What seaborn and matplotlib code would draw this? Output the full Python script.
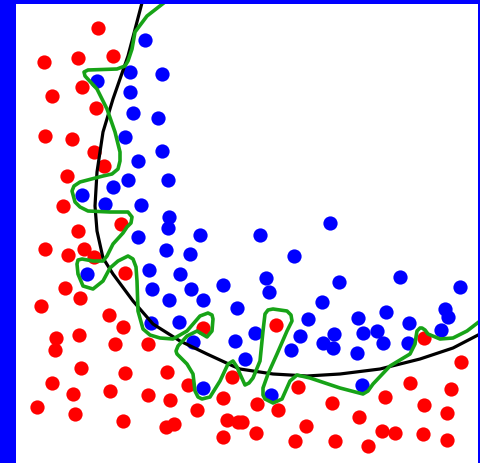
import matplotlib
matplotlib.use("Agg")
import matplotlib.pyplot as plt
import seaborn as sns
import pandas as pd

# Red class points (x, y) in image units (y grows downward)
red_x = [98, 44, 78, 113, 82, 52, 96, 45, 72, 94, 104, 67, 63, 121, 78,
         45, 68, 84, 94, 125, 65, 80, 41, 109, 123, 56, 79, 55, 115, 148,
         203, 81, 125, 167, 52, 73, 110, 148, 170, 188, 223, 232, 37, 75,
         197, 123, 166, 174, 227, 238, 223,
         276, 424, 461, 298, 410, 451, 385, 257, 278, 332, 424, 447, 242,
         306, 359, 256, 295, 335, 368, 382, 395, 423, 447]
red_y = [29, 63, 59, 57, 88, 97, 109, 137, 140, 153, 167, 177, 207, 225, 232,
         250, 256, 250, 258, 274, 289, 299, 307, 316, 328, 339, 336, 351, 345, 345,
         329, 369, 374, 373, 384, 395, 392, 396, 401, 386, 399, 378, 408, 415,
         411, 422, 428, 425, 421, 423, 438,
         326, 339, 363, 388, 384, 390, 398, 405, 411, 404, 406, 414, 423,
         427, 418, 434, 442, 442, 447, 432, 434, 435, 441]

# Blue class points
blue_x = [145, 130, 162, 97, 130, 133, 158, 125, 162, 138, 128, 168, 113, 82,
          105, 141, 169, 168, 200, 330,
          138, 166, 190, 87, 149, 180, 152, 191, 169, 203, 223, 237, 151, 179,
          193, 235, 203,
          260, 294, 266, 269, 339, 400, 460, 322, 255, 300, 308, 323, 334, 333,
          291, 245, 358, 363, 377, 383, 386, 409, 408, 357, 445, 448, 441,
          362, 271]
blue_y = [41, 73, 75, 82, 93, 114, 119, 138, 152, 162, 181, 181, 188, 196,
          205, 206, 218, 229, 236, 224,
          238, 251, 255, 275, 271, 275, 290, 290, 301, 301, 286, 309, 324, 323,
          343, 342, 389,
          236, 257, 279, 293, 283, 278, 288, 303, 334, 337, 320, 344, 335, 349,
          351, 360, 319, 334, 332, 344, 313, 324, 344, 354, 310, 318, 331,
          386, 396]

# Smooth (regularized) decision boundary
black_x = [143, 128, 113, 103, 97, 95, 97, 103, 113, 133, 153, 180, 207,
           233, 240, 273, 307, 340, 380, 420, 453, 480]
black_y = [0, 57, 100, 133, 173, 207, 232, 259, 275, 302, 325, 342, 355,
           367, 370, 375, 377, 375, 370, 360, 349, 335]

# Overfitted decision boundary
green_x = [165, 147, 135, 132, 128, 125, 117, 88, 84, 85, 97, 107, 115, 120, 120,
           118, 112, 103, 80, 74, 72, 75, 80, 88, 110, 128, 132, 131, 127, 123,
           113, 107, 103, 93, 82, 78, 77, 78, 83, 93, 103, 110, 118, 128, 133,
           136, 137, 138, 143, 150, 160, 173, 187, 200, 208, 212, 213, 212, 207,
           197, 187, 178, 176, 177, 187, 193, 195, 198, 202, 210, 220, 228, 233,
           237, 240, 245, 249, 253, 260, 263, 265, 268, 273, 287, 291, 292, 287,
           277, 268, 263, 263, 265, 273, 282, 290, 297, 310, 340, 363, 368,
           373, 390, 410, 415, 416, 417, 420, 422, 425, 428, 440, 453, 467, 480]
green_y = [3, 17, 33, 50, 62, 67, 70, 71, 73, 77, 90, 110, 133, 153, 162,
           170, 175, 177, 183, 187, 192, 203, 208, 212, 213, 213, 218, 224, 228, 234,
           245, 257, 262, 262, 260, 261, 265, 275, 287, 290, 282, 269, 262, 257, 260,
           268, 282, 312, 330, 336, 339, 340, 332, 317, 314, 316, 320, 332, 338,
           332, 337, 347, 352, 355, 365, 375, 392, 398, 400, 398, 382, 365, 362,
           368, 375, 386, 384, 379, 362, 332, 315, 311, 310, 312, 316, 322, 332,
           355, 375, 389, 396, 400, 404, 400, 382, 376, 379, 389, 395, 392,
           385, 367, 355, 345, 338, 332, 329, 329, 331, 335, 340, 339, 332, 322]

red_df = pd.DataFrame({"x": red_x, "y": red_y})
blue_df = pd.DataFrame({"x": blue_x, "y": blue_y})
black_df = pd.DataFrame({"x": black_x, "y": black_y})
green_df = pd.DataFrame({"x": green_x, "y": green_y})

sns.set_style("white")
fig = plt.figure(figsize=(4.8, 4.64), dpi=100, facecolor="#0000ff")
ax = fig.add_axes([16 / 480, 0, (478 - 16) / 480, (464 - 5) / 464])
ax.set_facecolor("white")

sns.scatterplot(data=red_df, x="x", y="y", color="#ff0000", s=105,
                linewidth=0, ax=ax, zorder=2)
sns.scatterplot(data=blue_df, x="x", y="y", color="#0000ff", s=105,
                linewidth=0, ax=ax, zorder=2)
sns.lineplot(data=black_df, x="x", y="y", sort=False, estimator=None,
             color="black", linewidth=2.3, ax=ax, zorder=3,
             solid_joinstyle="round", solid_capstyle="round")
sns.lineplot(data=green_df, x="x", y="y", sort=False, estimator=None,
             color="#17a317", linewidth=2.6, ax=ax, zorder=4,
             solid_joinstyle="round", solid_capstyle="round")

ax.set_xlim(16, 478)
ax.set_ylim(464, 5)
ax.set_xticks([])
ax.set_yticks([])
ax.set_xlabel("")
ax.set_ylabel("")
for s in ax.spines.values():
    s.set_visible(False)

fig.savefig("out.png", dpi=100, facecolor=fig.get_facecolor())
